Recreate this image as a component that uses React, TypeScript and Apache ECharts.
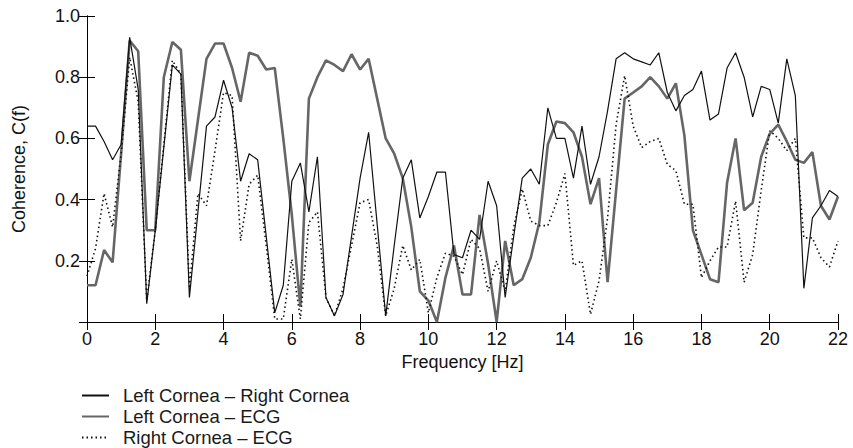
import React, { useEffect, useRef } from "react";
import * as echarts from "echarts";

const freq = [
  0, 0.25, 0.5, 0.75, 1, 1.25, 1.5, 1.75, 2, 2.25, 2.5, 2.75, 3, 3.25, 3.5, 3.75,
  4, 4.25, 4.5, 4.75, 5, 5.25, 5.5, 5.75, 6, 6.25, 6.5, 6.75, 7, 7.25, 7.5, 7.75,
  8, 8.25, 8.5, 8.75, 9, 9.25, 9.5, 9.75, 10, 10.25, 10.5, 10.75, 11, 11.25, 11.5, 11.75,
  12, 12.25, 12.5, 12.75, 13, 13.25, 13.5, 13.75, 14, 14.25, 14.5, 14.75, 15, 15.25, 15.5, 15.75,
  16, 16.25, 16.5, 16.75, 17, 17.25, 17.5, 17.75, 18, 18.25, 18.5, 18.75, 19, 19.25, 19.5, 19.75,
  20, 20.25, 20.5, 20.75, 21, 21.25, 21.5, 21.75, 22,
];

const leftRight = [
  0.64, 0.64, 0.59, 0.53, 0.58, 0.93, 0.76, 0.06, 0.30, 0.57, 0.84, 0.81, 0.08, 0.36, 0.64, 0.67,
  0.79, 0.70, 0.46, 0.55, 0.53, 0.28, 0.03, 0.12, 0.46, 0.52, 0.36, 0.54, 0.08, 0.02, 0.09, 0.28,
  0.47, 0.62, 0.32, 0.02, 0.25, 0.47, 0.53, 0.34, 0.41, 0.49, 0.49, 0.22, 0.21, 0.30, 0.27, 0.46,
  0.38, 0.08, 0.28, 0.47, 0.50, 0.45, 0.70, 0.60, 0.60, 0.47, 0.64, 0.45, 0.54, 0.69, 0.86, 0.88,
  0.86, 0.85, 0.84, 0.88, 0.75, 0.69, 0.74, 0.76, 0.82, 0.66, 0.68, 0.83, 0.88, 0.80, 0.67, 0.77,
  0.76, 0.65, 0.86, 0.74, 0.11, 0.34, 0.38, 0.43, 0.41,
];

const leftEcg = [
  0.12, 0.12, 0.235, 0.195, 0.55, 0.92, 0.885, 0.30, 0.30, 0.80, 0.915, 0.89, 0.46, 0.66, 0.86, 0.91,
  0.91, 0.83, 0.72, 0.88, 0.87, 0.825, 0.83, 0.60, 0.35, 0.05, 0.73, 0.80, 0.855, 0.84, 0.82, 0.875,
  0.825, 0.86, 0.73, 0.60, 0.55, 0.47, 0.31, 0.10, 0.07, 0.0, 0.145, 0.25, 0.09, 0.09, 0.35, 0.19,
  0.0, 0.265, 0.12, 0.14, 0.21, 0.325, 0.58, 0.655, 0.65, 0.62, 0.54, 0.385, 0.47, 0.13, 0.43, 0.73,
  0.75, 0.77, 0.80, 0.77, 0.73, 0.78, 0.61, 0.30, 0.22, 0.14, 0.13, 0.455, 0.60, 0.365, 0.39, 0.54,
  0.615, 0.645, 0.59, 0.53, 0.52, 0.555, 0.38, 0.335, 0.41,
];

const rightEcg = [
  0.15, 0.24, 0.42, 0.31, 0.55, 0.865, 0.72, 0.07, 0.30, 0.58, 0.855, 0.81, 0.11, 0.42, 0.38, 0.56,
  0.75, 0.74, 0.265, 0.45, 0.48, 0.25, 0.01, 0.01, 0.205, 0.01, 0.325, 0.36, 0.08, 0.02, 0.11, 0.25,
  0.39, 0.40, 0.25, 0.02, 0.11, 0.25, 0.17, 0.205, 0.03, 0.145, 0.225, 0.215, 0.155, 0.27, 0.24, 0.10,
  0.20, 0.10, 0.31, 0.435, 0.33, 0.315, 0.315, 0.39, 0.485, 0.185, 0.20, 0.025, 0.135, 0.34, 0.645, 0.805,
  0.64, 0.57, 0.59, 0.60, 0.515, 0.495, 0.385, 0.385, 0.145, 0.20, 0.245, 0.245, 0.395, 0.13, 0.22, 0.43,
  0.625, 0.60, 0.56, 0.60, 0.275, 0.275, 0.21, 0.18, 0.265,
];

const seriesNames = [
  "Left Cornea \u2013 Right Cornea",
  "Left Cornea \u2013 ECG",
  "Right Cornea \u2013 ECG",
];

const FONT = "'Liberation Sans', Arial, sans-serif";

export default function App() {
  const ref = useRef<HTMLDivElement>(null);
  useEffect(() => {
    if (!ref.current) return;
    const chart = echarts.init(ref.current, undefined, { renderer: "svg" });
    const pairs = (vals: number[]) => freq.map((f, i) => [f, vals[i]]);
    const axisCommon = {
      type: "value" as const,
      axisLine: { show: true, lineStyle: { color: "#000", width: 1 } },
      axisTick: { show: true, inside: true, length: 8, lineStyle: { color: "#000" } },
      splitLine: { show: false },
    };
    const legendTops = [386, 407, 428];
    const legends = seriesNames.map((name, i) => ({
      orient: "horizontal",
      left: 81,
      top: legendTops[i],
      padding: 0,
      itemWidth: 27,
      itemHeight: 16,
      itemStyle: { opacity: 0 },
      textStyle: {
        fontSize: 18.5,
        lineHeight: 18,
        color: "#1a1a1a",
        fontFamily: FONT,
        padding: [0, 0, 0, 9],
      },
      data: [name],
    }));
    chart.setOption({
      animation: false,
      backgroundColor: "#fff",
      textStyle: { fontFamily: FONT },
      grid: { left: 87, right: 15, top: 16, bottom: 126, containLabel: false },
      legend: legends,
      xAxis: [
        {
          ...axisCommon,
          min: 0,
          max: 22,
          interval: 2,
          position: "bottom",
          name: "Frequency [Hz]",
          nameLocation: "middle",
          nameGap: 29,
          nameTextStyle: { fontSize: 18, color: "#111", fontFamily: FONT },
          axisLabel: { fontSize: 18, color: "#111", margin: 8, fontFamily: FONT },
        },
        {
          ...axisCommon,
          min: 0,
          max: 22,
          interval: 2,
          position: "top",
          axisLabel: { show: false },
        },
      ],
      yAxis: [
        {
          ...axisCommon,
          min: 0,
          max: 1,
          interval: 0.2,
          position: "left",
          name: "Coherence, C(f)",
          nameLocation: "middle",
          nameGap: 59,
          nameTextStyle: { fontSize: 18, color: "#111", fontFamily: FONT },
          axisLabel: {
            fontSize: 18,
            color: "#111",
            margin: 7,
            fontFamily: FONT,
            formatter: (v: number) => (v === 0 ? "" : v.toFixed(1)),
          },
        },
        {
          ...axisCommon,
          min: 0,
          max: 1,
          interval: 0.2,
          position: "right",
          axisLabel: { show: false },
        },
      ],
      series: [
        {
          name: seriesNames[0],
          type: "line",
          data: pairs(leftRight),
          symbol: "none",
          z: 3,
          lineStyle: { color: "#111", width: 1.2 },
          itemStyle: { color: "#111" },
        },
        {
          name: seriesNames[1],
          type: "line",
          data: pairs(leftEcg),
          symbol: "none",
          z: 2,
          lineStyle: { color: "#666", width: 2.6 },
          itemStyle: { color: "#666" },
        },
        {
          name: seriesNames[2],
          type: "line",
          data: pairs(rightEcg),
          symbol: "none",
          z: 4,
          lineStyle: { color: "#111", width: 1.6, type: [1.5, 3] },
          itemStyle: { color: "#111" },
        },
      ],
    });
    return () => chart.dispose();
  }, []);
  return <div ref={ref} style={{ width: 853, height: 448, position: "absolute", left: 0, top: 0 }} />;
}
